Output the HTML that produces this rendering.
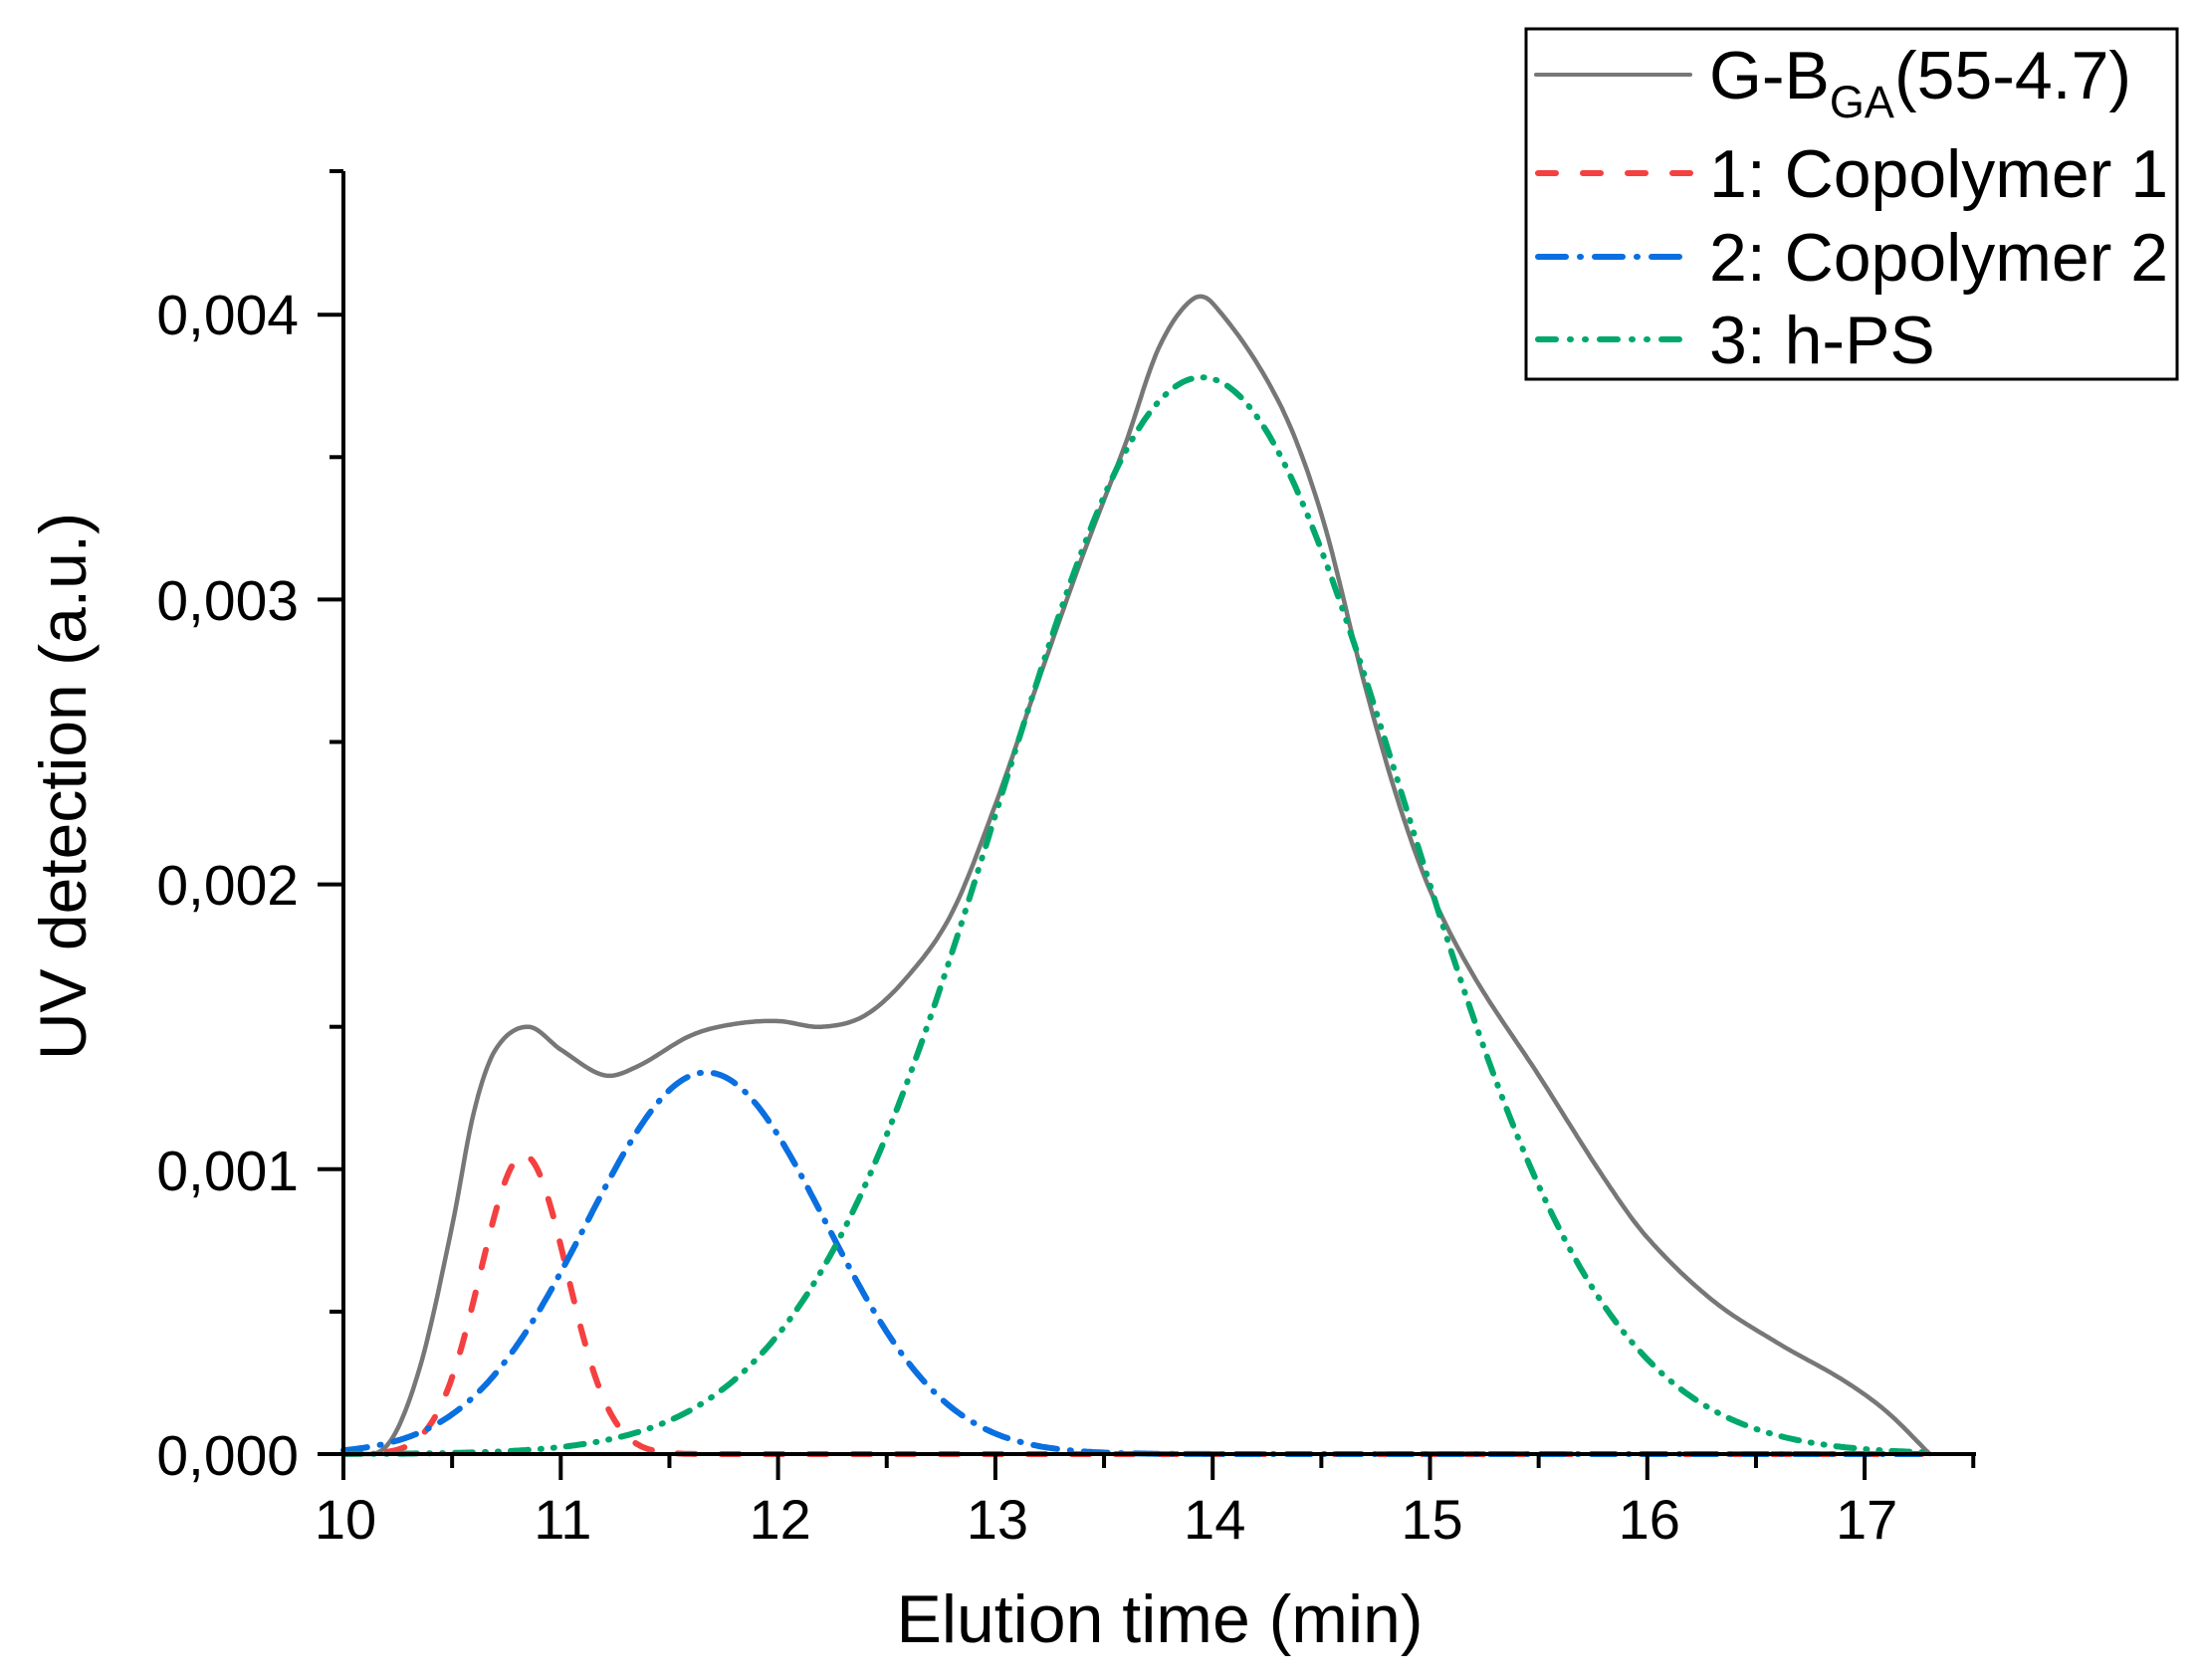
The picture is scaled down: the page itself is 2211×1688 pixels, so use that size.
<!DOCTYPE html>
<html><head><meta charset="utf-8"><style>
html,body{margin:0;padding:0;background:#fff}
svg{display:block}
text{font-family:"Liberation Sans",Arial,sans-serif;fill:#000}
</style></head><body>
<svg id="s" width="2211" height="1688" viewBox="0 0 2211 1688" xmlns="http://www.w3.org/2000/svg">
<g id="curves"></g>
<g id="axes" stroke="#000" stroke-width="4" fill="none"></g>
<g font-size="57" text-anchor="end">
<text x="300" y="1482">0,000</text>
<text x="300" y="1196">0,001</text>
<text x="300" y="909">0,002</text>
<text x="300" y="623">0,003</text>
<text x="300" y="336">0,004</text>
</g>
<g id="xl" font-size="56" text-anchor="middle"></g>
<text x="1165" y="1650" font-size="68" text-anchor="middle">Elution time (min)</text>
<text transform="translate(86,790) rotate(-90)" font-size="66" text-anchor="middle">UV detection (a.u.)</text>
<rect x="1533" y="29" width="654" height="352" fill="none" stroke="#000" stroke-width="3"/>
<line x1="1543" y1="75" x2="1698" y2="75" stroke="#777" stroke-width="4" stroke-linecap="round"/>
<line x1="1545" y1="174" x2="1698" y2="174" stroke="#f44040" stroke-width="6" stroke-dasharray="18 27" stroke-linecap="round"/>
<line x1="1545" y1="258" x2="1698" y2="258" stroke="#0a6fe0" stroke-width="6" stroke-dasharray="28 14 1 14" stroke-linecap="round"/>
<line x1="1545" y1="341" x2="1698" y2="341" stroke="#00a86b" stroke-width="6" stroke-dasharray="18 14 1 14 1 14" stroke-linecap="round"/>
<g font-size="68">
<text x="1717" y="99">G-B<tspan font-size="45" dy="19">GA</tspan><tspan dy="-19">(55-4.7)</tspan></text>
<text x="1717" y="198">1: Copolymer 1</text>
<text x="1717" y="282">2: Copolymer 2</text>
<text x="1717" y="365">3: h-PS</text>
</g>
</svg>
<script>
const X=t=>345+(t-10)*218.3, Y=v=>1461-v*286200;
const ns="http://www.w3.org/2000/svg";
function el(p,tag,a){const e=document.createElementNS(ns,tag);for(const k in a)e.setAttribute(k,a[k]);p.appendChild(e);return e;}
const ax=document.getElementById('axes'), cv=document.getElementById('curves'), xl=document.getElementById('xl');
el(ax,'line',{x1:345,y1:172,x2:345,y2:1463});
el(ax,'line',{x1:343,y1:1461,x2:1985,y2:1461});
for(let i=0;i<=8;i++){const v=i*0.0005;const L=i%2?14:26;el(ax,'line',{x1:345-L,y1:Y(v),x2:345,y2:Y(v)});}
el(ax,'line',{x1:331,y1:172,x2:345,y2:172});
for(let t=10;t<=17.51;t+=0.5){const L=(Math.abs(t-Math.round(t))<0.01)?26:14;el(ax,'line',{x1:X(t),y1:1461,x2:X(t),y2:1461+L});
 if(L==26){const tx=el(xl,'text',{x:X(t)+2,y:1546});tx.textContent=Math.round(t);}}
function g(t,m,h,s){return h*Math.exp(-(t-m)*(t-m)/(2*s*s));}
function path(f,a,b,stroke,dash,w){let d='';for(let t=a;t<=b+1e-9;t+=0.01){d+=(d?'L':'M')+X(t).toFixed(1)+','+Y(f(t)).toFixed(1);}
 const o={d:d,fill:'none',stroke:stroke,'stroke-width':w,'stroke-linecap':'round','stroke-linejoin':'round'};if(dash)o['stroke-dasharray']=dash;el(cv,'path',o);}
const P=[[10,0],[10.2,0.00003],[10.35,0.0003],[10.5,0.0008],[10.6,0.0012],[10.7,0.00142],[10.85,0.0015],[11.0,0.00142],[11.2,0.00133],[11.35,0.00136],[11.6,0.00147],[11.8,0.00151],[12.0,0.00152],[12.2,0.0015],[12.4,0.00154],[12.6,0.00168],[12.8,0.0019],[13.0,0.00228],[13.2,0.00272],[13.4,0.00315],[13.6,0.00355],[13.75,0.00388],[13.9,0.00405],[14.0,0.00404],[14.3,0.0037],[14.5,0.0033],[14.7,0.0027],[14.85,0.0023],[15.0,0.00198],[15.2,0.00168],[15.5,0.00133],[15.8,0.00097],[16.0,0.00076],[16.3,0.00054],[16.6,0.00039],[16.9,0.00026],[17.1,0.00015],[17.3,0]];
function gray(t){for(let i=0;i<P.length-1;i++){if(t<=P[i+1][0]){const p0=P[Math.max(i-1,0)],p1=P[i],p2=P[i+1],p3=P[Math.min(i+2,P.length-1)];const u=(t-p1[0])/(p2[0]-p1[0]);
 const m1=(p2[1]-p0[1])/(p2[0]-p0[0])*(p2[0]-p1[0]),m2=(p3[1]-p1[1])/(p3[0]-p1[0])*(p2[0]-p1[0]);
 const h00=2*u*u*u-3*u*u+1,h10=u*u*u-2*u*u+u,h01=-2*u*u*u+3*u*u,h11=u*u*u-u*u;return Math.max(0,h00*p1[1]+h10*m1+h01*p2[1]+h11*m2);}}return 0;}
path(gray,10,17.3,'#777',null,4.5);
path(t=>g(t,10.83,0.00105,0.2),10,17.3,'#f44040','18 26',6);
path(t=>g(t,11.67,0.00134,0.55),10,17.3,'#0a6fe0','24 13 1 13',6);
path(t=>g(t,13.95,0.00378,0.93),10,17.3,'#00a86b','18 12 1 12 1 12',6);
</script>
</body></html>
